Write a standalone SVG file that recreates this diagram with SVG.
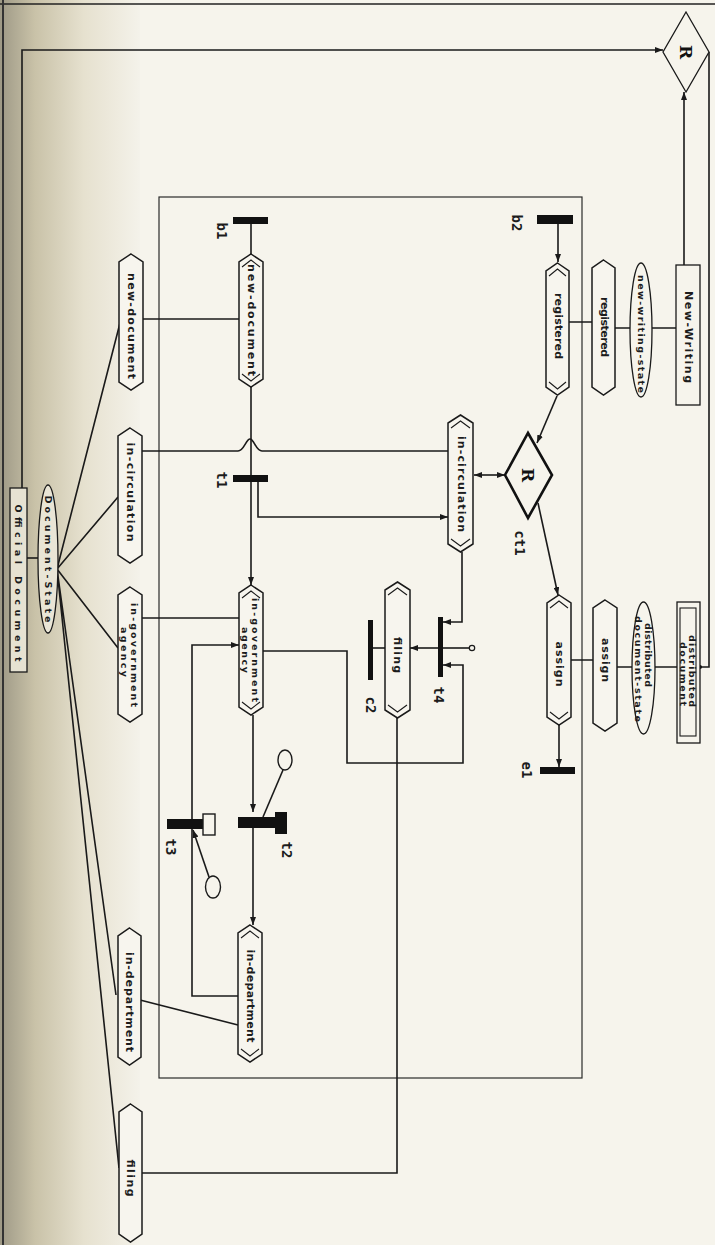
<svg xmlns="http://www.w3.org/2000/svg" width="715" height="1245" viewBox="0 0 715 1245">
<defs>
<linearGradient id="shade" x1="0" y1="0" x2="1" y2="0">
<stop offset="0" stop-color="#9e9986"/>
<stop offset="0.25" stop-color="#c9c2a8"/>
<stop offset="0.6" stop-color="#e6e1cf"/>
<stop offset="1" stop-color="#f4f2ea"/>
</linearGradient>
<marker id="arr" markerWidth="8" markerHeight="6" refX="8" refY="3" orient="auto-start-reverse" markerUnits="userSpaceOnUse">
<path d="M0,0 L8,3 L0,6 z" fill="#1a1a1a"/>
</marker>
<style>
.ln{fill:none;stroke:#1a1a1a;stroke-width:1.6}
.th{fill:none;stroke:#1a1a1a;stroke-width:1.2}
.hx{fill:#f7f5ee;stroke:#1a1a1a;stroke-width:1.5}
.hi{fill:none;stroke:#1a1a1a;stroke-width:1.1}
.bar{fill:#111;stroke:none}
.t{font-family:"DejaVu Sans",sans-serif;font-weight:bold;font-size:11px;fill:#1c1c1c;text-anchor:middle;dominant-baseline:central}
.s{font-family:"DejaVu Sans",sans-serif;font-weight:bold;font-size:9.5px;fill:#1c1c1c;text-anchor:middle;dominant-baseline:central}
.lb{font-family:"DejaVu Sans Mono",monospace;font-weight:bold;font-size:14px;fill:#1c1c1c;text-anchor:middle;dominant-baseline:central}
.R{font-family:"DejaVu Serif",serif;font-weight:bold;font-size:17px;fill:#111;text-anchor:middle;dominant-baseline:central}
</style>
</defs>
<rect x="0" y="0" width="715" height="1245" fill="#f6f4ec"/>
<rect x="0" y="0" width="140" height="1245" fill="url(#shade)"/>
<line x1="0" y1="4" x2="715" y2="4" stroke="#222" stroke-width="1.5"/>
<line x1="3" y1="0" x2="3" y2="1245" stroke="#333" stroke-width="2"/>

<g id="frame">
<rect x="159" y="197" width="423" height="881" fill="none" stroke="#2a2a2a" stroke-width="1.2"/>
</g>

<g id="connectors">
<path class="ln" d="M22,488 V50 H663" marker-end="url(#arr)"/>
<path class="ln" d="M684,265 V92" marker-end="url(#arr)"/>
<path class="ln" d="M700,667 H709 V52"/>
<circle cx="700" cy="667" r="2" fill="#111"/>
<path class="ln" d="M569,322 H592 M615,328 H630 M652,328 H676"/>
<path class="ln" d="M571,660 H593 M617,667 H632 M655,667 H677"/>
<path class="ln" d="M558,224 V262" marker-end="url(#arr)"/>
<path class="ln" d="M557,396 L537,443" marker-end="url(#arr)"/>
<path class="ln" d="M538,503 L558,595" marker-end="url(#arr)"/>
<path class="ln" d="M559,725 V767" marker-end="url(#arr)"/>
<path class="ln" d="M474,475 H505" marker-start="url(#arr)" marker-end="url(#arr)"/>
<path class="ln" d="M251,224 V254"/>
<path class="ln" d="M143,319 H239"/>
<path class="ln" d="M251,387 V585" marker-end="url(#arr)"/>
<path class="ln" d="M142,451 H238 C244,451 246,439 250,439 C254,439 256,451 262,451 H448"/>
<path class="ln" d="M258,482 V517 H448" marker-end="url(#arr)"/>
<path class="ln" d="M142,618 H239"/>
<path class="ln" d="M263,651 H347 V763 H463 V665 H443" marker-end="url(#arr)"/>
<path class="ln" d="M462,552 V622 H443" marker-end="url(#arr)"/>
<path class="ln" d="M438,648 H410" marker-end="url(#arr)"/>
<path class="ln" d="M443,648 H469"/>
<circle cx="472" cy="648" r="2.7" fill="#f6f4ec" stroke="#1a1a1a" stroke-width="1.2"/>
<path class="ln" d="M373,648 H385"/>
<path class="ln" d="M397,718 V1173 H142"/>
<path class="ln" d="M253,715 V812" marker-end="url(#arr)"/>
<path class="ln" d="M253,828 V925" marker-end="url(#arr)"/>
<path class="ln" d="M283,770 L263,817"/>
<path class="ln" d="M238,996 H192 V645 H239" marker-end="url(#arr)"/>
<path class="ln" d="M209,877 L193,830" marker-end="url(#arr)"/>
<path class="ln" d="M140,1000 L238,1025"/>
<path class="ln" d="M27,558 H38"/>
<path class="ln" d="M57,569 L120,323 M57,569 L118,497 M57,569 L118,648 M57,569 L116,995 M57,569 L119,1168"/>
</g>

<g id="R-top">
<polygon points="686,12 709,52 686,92 663,52" fill="#f6f4ec" stroke="#1a1a1a" stroke-width="1.3"/>
<text class="R" transform="translate(686,52) rotate(90)">R</text>
</g>
<g id="New-Writing">
<rect x="676" y="265" width="24" height="140" fill="#f6f4ec" stroke="#1a1a1a" stroke-width="1.3"/>
<text class="t" transform="translate(688,337) rotate(90)" textLength="92">New-Writing</text>
</g>
<g id="new-writing-state">
<ellipse cx="641" cy="330" rx="11" ry="67" fill="#f6f4ec" stroke="#1a1a1a" stroke-width="1.3"/>
<text class="s" transform="translate(641,334) rotate(90)" textLength="118">new-writing-state</text>
</g>
<g id="registered-state">
<polygon class="hx" points="603.5,260 615,268 615,387 603.5,395 592,387 592,268"/>
<text class="t" transform="translate(604,327) rotate(90)" textLength="60">registered</text>
</g>
<g id="registered">
<polygon class="hx" points="557.5,263 569,271 569,387 557.5,395 546,387 546,271"/>
<polyline class="hi" points="549,276 557.5,269 566,276"/>
<polyline class="hi" points="549,382 557.5,389 566,382"/>
<text class="t" transform="translate(558,326) rotate(90)" textLength="66">registered</text>
</g>
<g id="b2">
<rect class="bar" x="537" y="215" width="36" height="9"/>
<text class="lb" transform="translate(517,223) rotate(90)">b2</text>
</g>
<g id="ct1">
<polygon points="528,433 552,475 528,518 505,475" fill="#f6f4ec" stroke="#111" stroke-width="2.6"/>
<text class="R" transform="translate(528,475) rotate(90)">R</text>
<text class="lb" transform="translate(520,543) rotate(90)">ct1</text>
</g>
<g id="in-circulation">
<polygon class="hx" points="460.5,415 473,423 473,544 460.5,552 448,544 448,423"/>
<polyline class="hi" points="451,428 460.5,421 470,428"/>
<polyline class="hi" points="451,539 460.5,546 470,539"/>
<text class="t" transform="translate(461,484) rotate(90)" textLength="96">in-circulation</text>
</g>
<g id="assign">
<polygon class="hx" points="559,595 571,603 571,717 559,725 547,717 547,603"/>
<polyline class="hi" points="550,608 559,601 568,608"/>
<polyline class="hi" points="550,712 559,719 568,712"/>
<text class="t" transform="translate(559,664) rotate(90)" textLength="45">assign</text>
</g>
<g id="assign-state">
<polygon class="hx" points="605,600 617,608 617,723 605,731 593,723 593,608"/>
<text class="t" transform="translate(605,660) rotate(90)" textLength="44">assign</text>
</g>
<g id="distributed-document-state">
<ellipse cx="643.5" cy="668" rx="11.5" ry="66" fill="#f6f4ec" stroke="#1a1a1a" stroke-width="1.3"/>
<text class="s" transform="translate(648,655) rotate(90)" textLength="64">distributed</text>
<text class="s" transform="translate(638,669) rotate(90)" textLength="106">document-state</text>
</g>
<g id="distributed-document">
<rect x="677" y="602" width="23" height="141" fill="#f6f4ec" stroke="#1a1a1a" stroke-width="1.3"/>
<rect x="680" y="608" width="16" height="128" fill="none" stroke="#1a1a1a" stroke-width="1.1"/>
<text class="s" transform="translate(692,671) rotate(90)" textLength="72">distributed</text>
<text class="s" transform="translate(683,674) rotate(90)" textLength="64">document</text>
</g>
<g id="e1">
<rect class="bar" x="540" y="767" width="35" height="7"/>
<text class="lb" transform="translate(527,770) rotate(90)">e1</text>
</g>
<g id="b1">
<rect class="bar" x="233" y="217" width="35" height="7"/>
<text class="lb" transform="translate(222,231) rotate(90)">b1</text>
</g>
<g id="new-document">
<polygon class="hx" points="251,254 263,262 263,379 251,387 239,379 239,262"/>
<polyline class="hi" points="242,267 251,260 260,267"/>
<polyline class="hi" points="242,374 251,381 260,374"/>
<text class="t" transform="translate(251,320) rotate(90)" textLength="112">new-document</text>
</g>
<g id="new-document-state">
<polygon class="hx" points="131,254 143,262 143,382 131,390 119,382 119,262"/>
<text class="t" transform="translate(131,326) rotate(90)" textLength="106">new-document</text>
</g>
<g id="t1">
<rect class="bar" x="233" y="475" width="35" height="7"/>
<text class="lb" transform="translate(222,480) rotate(90)">t1</text>
</g>
<g id="in-circulation-state">
<polygon class="hx" points="130,428 142,436 142,555 130,563 118,555 118,436"/>
<text class="t" transform="translate(130,492) rotate(90)" textLength="99">in-circulation</text>
</g>
<g id="in-government-agency">
<polygon class="hx" points="251,585 263,593 263,707 251,715 239,707 239,593"/>
<polyline class="hi" points="242,598 251,591 260,598"/>
<polyline class="hi" points="242,702 251,709 260,702"/>
<text class="s" transform="translate(255,650) rotate(90)" textLength="104">in-government</text>
<text class="s" transform="translate(245,650) rotate(90)" textLength="46">agency</text>
</g>
<g id="in-government-agency-state">
<polygon class="hx" points="130,587 142,595 142,714 130,722 118,714 118,595"/>
<text class="s" transform="translate(134,655) rotate(90)" textLength="104">in-government</text>
<text class="s" transform="translate(124,652) rotate(90)" textLength="50">agency</text>
</g>
<g id="filing">
<polygon class="hx" points="397.5,582 410,590 410,710 397.5,718 385,710 385,590"/>
<polyline class="hi" points="388,595 397.5,588 407,595"/>
<polyline class="hi" points="388,705 397.5,712 407,705"/>
<text class="t" transform="translate(397,655) rotate(90)" textLength="36">filing</text>
</g>
<g id="c2">
<rect class="bar" x="368" y="620" width="5" height="60"/>
<text class="lb" transform="translate(371,705) rotate(90)">c2</text>
</g>
<g id="t4">
<rect class="bar" x="438" y="617" width="5" height="60"/>
<text class="lb" transform="translate(439,695) rotate(90)">t4</text>
</g>
<g id="t2">
<rect class="bar" x="238" y="817" width="37" height="11"/>
<rect class="bar" x="275" y="812" width="12" height="22"/>
<ellipse cx="285" cy="760" rx="7" ry="10" fill="#f6f4ec" stroke="#1a1a1a" stroke-width="1.4"/>
<text class="lb" transform="translate(287,850) rotate(90)">t2</text>
</g>
<g id="t3">
<rect class="bar" x="167" y="819" width="36" height="10"/>
<rect x="203" y="814" width="12" height="21" fill="#f6f4ec" stroke="#1a1a1a" stroke-width="1.4"/>
<ellipse cx="213" cy="887" rx="7.5" ry="11" fill="#f6f4ec" stroke="#1a1a1a" stroke-width="1.4"/>
<text class="lb" transform="translate(171,847) rotate(90)">t3</text>
</g>
<g id="in-department">
<polygon class="hx" points="250,925 262,933 262,1054 250,1062 238,1054 238,933"/>
<polyline class="hi" points="241,938 250,931 259,938"/>
<polyline class="hi" points="241,1049 250,1056 259,1049"/>
<text class="t" transform="translate(250,996) rotate(90)" textLength="93">in-department</text>
</g>
<g id="in-department-state">
<polygon class="hx" points="129.5,928 141,936 141,1057 129.5,1065 118,1057 118,936"/>
<text class="t" transform="translate(129,1002) rotate(90)" textLength="100">in-department</text>
</g>
<g id="filing-state">
<polygon class="hx" points="130.5,1104 142,1112 142,1234 130.5,1242 119,1234 119,1112"/>
<text class="t" transform="translate(130,1178) rotate(90)" textLength="37">filing</text>
</g>
<g id="Document-State">
<ellipse cx="48" cy="559" rx="10" ry="74" fill="#e9e5d6" stroke="#1a1a1a" stroke-width="1.3"/>
<text class="s" transform="translate(48,559) rotate(90)" textLength="127">Document-State</text>
</g>
<g id="Official-Document">
<rect x="10" y="488" width="17" height="184" fill="#e6e2d2" stroke="#1a1a1a" stroke-width="1.3"/>
<text class="s" transform="translate(18.5,583) rotate(90)" textLength="157">Official  Document</text>
</g>
</svg>
